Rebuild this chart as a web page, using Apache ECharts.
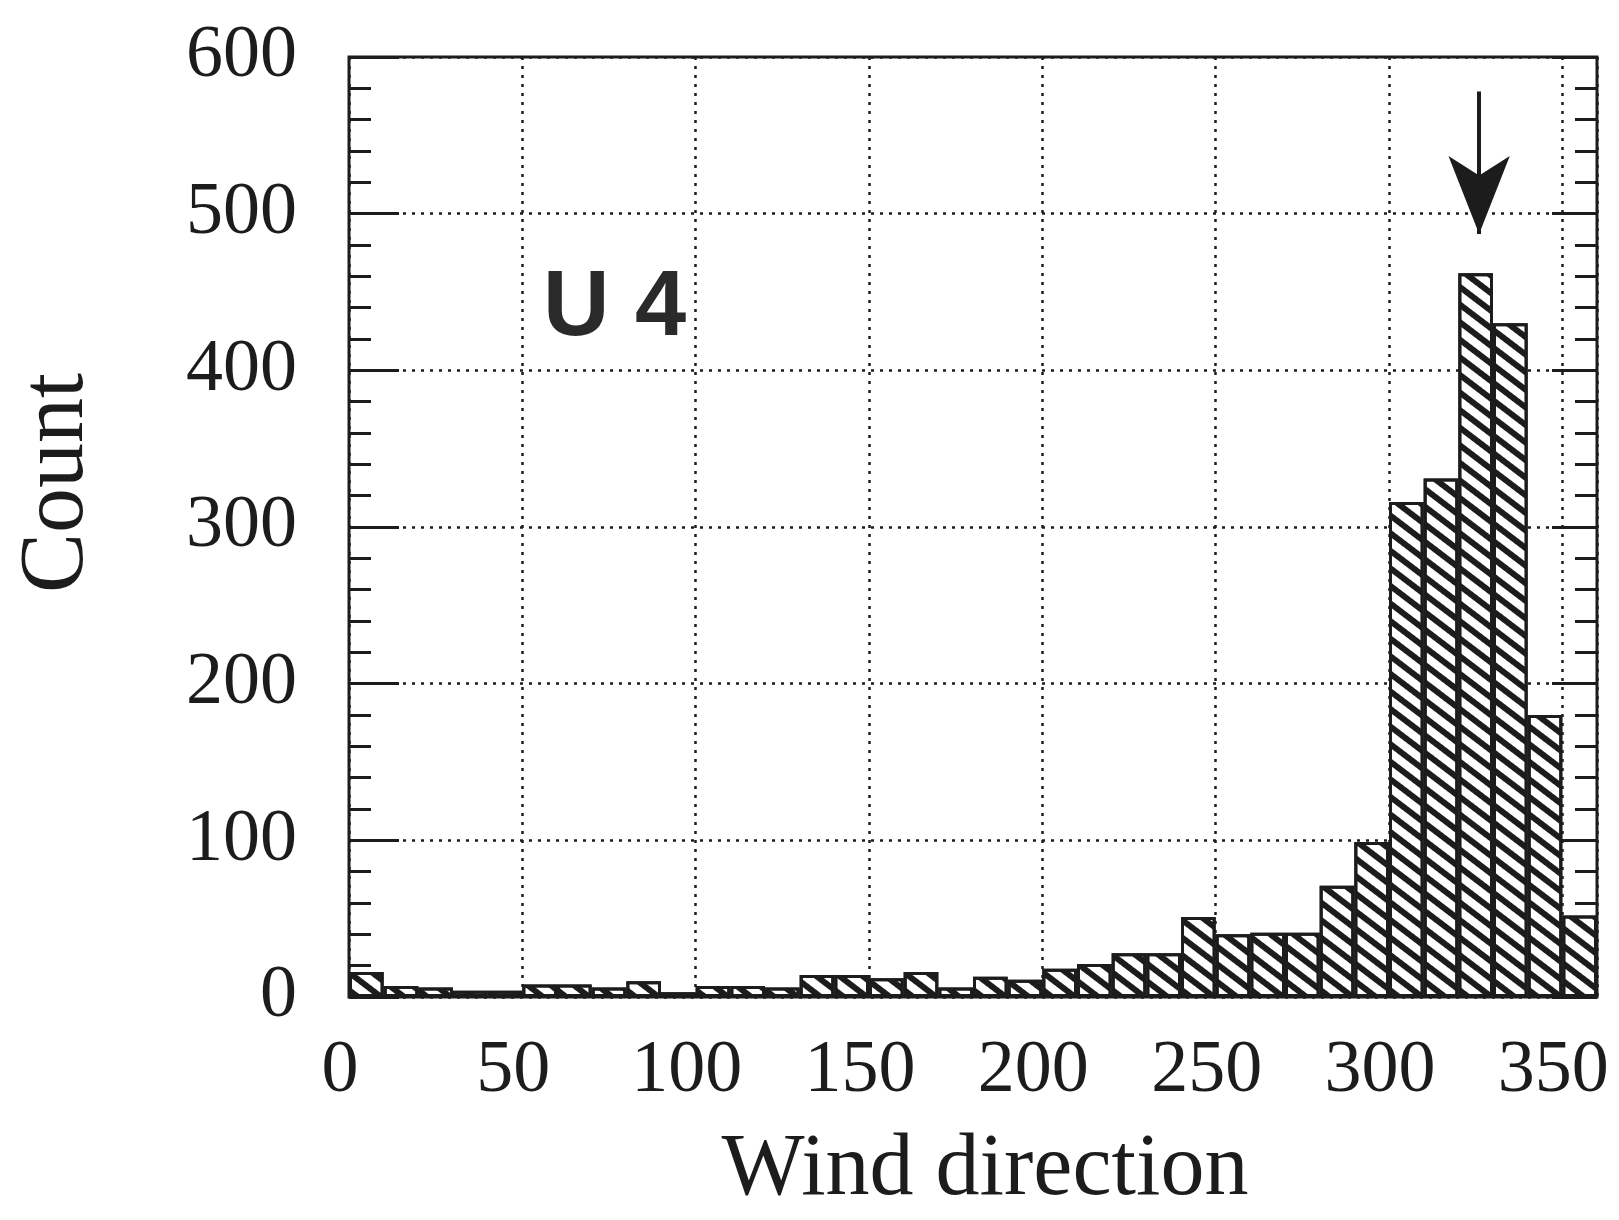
<!DOCTYPE html>
<html>
<head>
<meta charset="utf-8">
<script src="https://cdn.jsdelivr.net/npm/echarts@6/dist/echarts.min.js"></script>
<style>
  html, body { margin: 0; padding: 0; background: #fff; }
  #chart { width: 1619px; height: 1220px; }
</style>
</head>
<body>
<div id="chart"></div>
<script>
// Histogram bins (10-degree wide), lower edges
const binStarts = [0,10,20,30,40,50,60,70,80,90,100,110,120,130,140,150,160,170,
                   180,190,200,210,220,230,240,250,260,270,280,290,300,310,320,330,340,350];
// Counts per bin
const counts = [16,7,6,4,4,8,8,6,10,3,7,7,6,14,14,12,16,6,
                13,11,18,21,28,28,51,40,41,41,71,99,316,331,462,430,180,52];
// Axis ranges / ticks
const xTicks = [0,50,100,150,200,250,300,350];
const xRange = [0, 360];
const yRange = [0, 600];
// Arrow annotation: shaft from top value down to the arrow tip
const arrowX = 326;
const arrowFromY = 578;
const arrowToY = 487;
const panelLabel = 'U 4';

const ink = '#1c1c1c';
const chart = echarts.init(document.getElementById('chart'), null, { renderer: 'canvas' });

chart.setOption({
  backgroundColor: '#ffffff',
  animation: false,
  grid: {
    left: 349, right: 22, top: 57, bottom: 221,
    show: true, borderColor: ink, borderWidth: 3, backgroundColor: '#fff'
  },
  xAxis: [
    {
      type: 'category', data: binStarts.map(String), show: false,
      boundaryGap: true
    },
    {
      type: 'value', min: xRange[0], max: xRange[1], interval: 50,
      position: 'bottom',
      axisLine: { show: false },
      axisTick: { show: false },
      axisLabel: {
        showMaxLabel: false,
        fontFamily: 'Liberation Serif', fontSize: 74, color: ink,
        margin: 38,
        padding: [0, 18, 0, 0],
        formatter: v => (xTicks.indexOf(v) >= 0 ? String(v) : '')
      },
      splitLine: { show: true, lineStyle: { color: ink, width: 2.5, type: [3, 6] } },
      name: 'Wind direction', nameLocation: 'middle', nameGap: 130,
      nameTextStyle: { fontFamily: 'Liberation Serif', fontSize: 88, color: ink, padding: [0, 0, 0, 24] }
    }
  ],
  yAxis: [
    {
      type: 'value', min: yRange[0], max: yRange[1], interval: 100,
      axisLine: { show: false },
      axisTick: { show: true, inside: true, length: 50, lineStyle: { color: ink, width: 3 } },
      minorTick: { show: true, splitNumber: 5, length: 22, lineStyle: { color: ink, width: 3 } },
      axisLabel: {
        fontFamily: 'Liberation Serif', fontSize: 74, color: ink, margin: 52,
        padding: [0, 0, 14, 0]
      },
      splitLine: { show: true, lineStyle: { color: ink, width: 2.5, type: [3, 6] } }
    },
    {
      type: 'value', min: yRange[0], max: yRange[1], interval: 100, position: 'right',
      axisLine: { show: false },
      axisTick: { show: true, inside: true, length: 45, lineStyle: { color: ink, width: 3 } },
      minorTick: { show: true, splitNumber: 5, length: 22, lineStyle: { color: ink, width: 3 } },
      axisLabel: { show: false },
      splitLine: { show: false }
    }
  ],
  series: [
    {
      type: 'bar',
      xAxisIndex: 0, yAxisIndex: 0,
      data: counts,
      barWidth: '100%',
      barCategoryGap: '0%',
      itemStyle: {
        color: '#ffffff',
        borderColor: ink,
        borderWidth: 3,
        decal: {
          symbol: 'rect',
          symbolSize: 1,
          color: ink,
          dashArrayX: [1, 0],
          dashArrayY: [6, 8],
          rotation: 0.65
        }
      },
      z: 3
    },
    {
      type: 'line',
      xAxisIndex: 1, yAxisIndex: 0,
      data: [],
      markLine: {
        silent: true,
        symbol: ['none', 'arrow'],
        symbolSize: [46, 78],
        label: { show: false },
        lineStyle: { color: ink, width: 4, type: 'solid' },
        data: [[{ coord: [arrowX, arrowFromY] }, { coord: [arrowX, arrowToY] }]]
      },
      z: 5
    }
  ],
  graphic: [
    {
      type: 'text', left: 543, top: 264, z: 10,
      style: {
        text: panelLabel, fontFamily: 'Liberation Sans', fontWeight: 'bold',
        fontSize: 92, fill: '#2a2a2a'
      }
    },
    {
      type: 'text', x: 58, y: 483, rotation: Math.PI / 2, z: 10,
      style: {
        text: 'Count', fontFamily: 'Liberation Serif', fontSize: 90, fill: ink,
        align: 'center', verticalAlign: 'middle'
      }
    }
  ]
});
</script>
</body>
</html>
